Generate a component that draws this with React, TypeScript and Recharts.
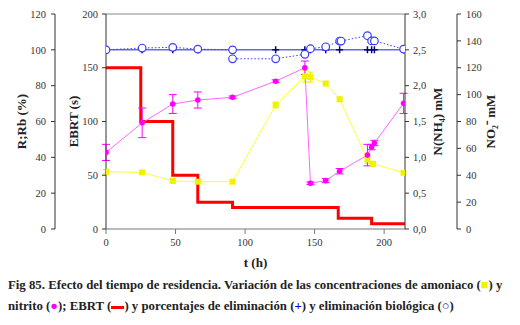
import React from "react";
import {
  ComposedChart,
  Line,
  XAxis,
  YAxis,
  ErrorBar,
  ReferenceLine,
} from "recharts";

// EBRT (s), step changes
const ebrtTime = [0, 25, 48, 66, 91, 167, 191, 215];
const ebrtSeconds = [150, 100, 50, 25, 20, 10, 5, 5];

// amoniaco, N(NH4) mM
const ammoniaTime = [0, 26, 48, 66, 91, 122, 143, 147, 158, 168, 188, 192, 214];
const ammonia = [0.8, 0.79, 0.67, 0.66, 0.66, 1.73, 2.13, 2.12, 2.03, 1.81, 0.97, 0.91, 0.785];
const ammoniaErr = [0.03, 0.02, 0.03, 0.02, 0.02, 0.04, 0.08, 0.07, 0.03, 0.03, 0.05, 0.03, 0.02];

// nitrito, NO2- mM
const nitriteTime = [0, 26, 48, 66, 91, 122, 143, 147, 158, 168, 188, 191, 193, 214];
const nitrite = [57, 79, 93, 96, 98, 110, 120, 34, 36, 43, 55, 61, 64, 93.5];
const nitriteErr = [6, 11, 7, 6, 1, 1, 5, 1, 1.5, 2, 8, 2, 2, 7.5];

// eliminacion (+), %
const removalTime = [0, 26, 48, 66, 91, 122, 143, 147, 158, 168, 188, 191, 193, 214];
const removal = [100, 100, 100, 100, 100, 100, 100, 100, 100, 100, 100, 100, 100, 100];

// eliminacion biologica (o), %
const bioTime = [0, 26, 48, 66, 91, 91, 122, 143, 147, 158, 168, 169, 188, 191, 193, 214];
const bio = [100, 101, 101.4, 100.4, 100, 95, 95, 97.5, 100.6, 101.7, 104.9, 104.9, 107.9, 105, 105, 100.4];

const timeTicks = [0, 50, 100, 150, 200];
const pctTicks = [0, 20, 40, 60, 80, 100, 120];
const ebrtTicks = [0, 50, 100, 150, 200];
const nh4Ticks = [0, 0.5, 1, 1.5, 2, 2.5, 3];
const no2Ticks = [0, 20, 40, 60, 80, 100, 120, 140, 160];

const rows = (t: number[], v: number[], e?: number[]) =>
  t.map((x, i) => ({ t: x, v: v[i], e: e ? e[i] : 0 }));

const font = '"Liberation Serif", "Times New Roman", Times, serif';
const tick = { fontSize: 10.5, fill: "#333", fontFamily: font };
const titleStyle = { fontSize: 13, fontWeight: 700, fill: "#222", fontFamily: font };

const SquareDot = (p: any) => (
  <rect key={`sq-${p.index}`} x={p.cx - 3} y={p.cy - 3} width={6} height={6} fill="#f2f200" />
);
const RoundDot = (p: any) => (
  <circle key={`rd-${p.index}`} cx={p.cx} cy={p.cy} r={2.8} fill="#ff00ff" />
);
const PlusDot = (p: any) => (
  <path
    key={`pl-${p.index}`}
    d={`M${p.cx - 3.5},${p.cy}H${p.cx + 3.5}M${p.cx},${p.cy - 3.5}V${p.cy + 3.5}`}
    stroke="#000080"
    strokeWidth={1.5}
  />
);
const OpenDot = (p: any) => (
  <circle key={`op-${p.index}`} cx={p.cx} cy={p.cy} r={3.8} fill="#fff" stroke="#3a3aff" strokeWidth={1.2} />
);

const comma = (v: number) => v.toFixed(1).replace(".", ",");

export default function App() {
  return (
    <div style={{ width: 512, fontFamily: font }}>
      <ComposedChart width={512} height={266} margin={{ top: 6, right: 0, bottom: 0, left: 0 }}>
        <XAxis
          dataKey="t"
          type="number"
          domain={[0, 215]}
          ticks={timeTicks}
          allowDataOverflow
          tick={tick}
          tickSize={5}
          tickMargin={5}
          height={45}
          stroke="#777"
          label={{ value: "t (h)", position: "insideBottom", offset: 7, style: titleStyle }}
        />
        <YAxis
          yAxisId="ebrt"
          orientation="left"
          width={51}
          domain={[0, 200]}
          ticks={ebrtTicks}
          tick={tick}
          tickSize={4}
          tickMargin={4}
          stroke="#333"
          label={{ value: "EBRT (s)", angle: -90, position: "center", dx: -7, style: titleStyle }}
        />
        <YAxis
          yAxisId="r"
          orientation="left"
          width={47}
          domain={[0, 120]}
          ticks={pctTicks}
          tick={tick}
          tickSize={4}
          tickMargin={5}
          stroke="#333"
          label={{ value: "R;Rb (%)", angle: -90, position: "center", dx: -10, style: titleStyle }}
        />
        <YAxis
          yAxisId="nh4"
          orientation="right"
          width={52}
          domain={[0, 3]}
          ticks={nh4Ticks}
          tickFormatter={comma}
          tick={tick}
          tickSize={4}
          tickMargin={4}
          stroke="#333"
          label={{ value: "N(NH₄) mM", angle: -90, position: "center", dx: 6, style: titleStyle }}
        />
        <YAxis
          yAxisId="no2"
          orientation="right"
          width={63}
          domain={[0, 160]}
          ticks={no2Ticks}
          tick={tick}
          tickSize={4}
          tickMargin={5}
          stroke="#333"
          label={{ value: "NO₂⁻ mM", angle: -90, position: "center", dx: 2, style: titleStyle }}
        />
        <ReferenceLine yAxisId="ebrt" y={200} stroke="#888" />

        <Line
          yAxisId="ebrt"
          data={rows(ebrtTime, ebrtSeconds)}
          dataKey="v"
          type="stepAfter"
          stroke="#ff0000"
          strokeWidth={3}
          dot={false}
          isAnimationActive={false}
        />
        <Line
          yAxisId="nh4"
          data={rows(ammoniaTime, ammonia, ammoniaErr)}
          dataKey="v"
          stroke="#ffff33"
          strokeWidth={1}
          dot={SquareDot}
          isAnimationActive={false}
        >
          <ErrorBar dataKey="e" width={3} stroke="#e8e800" strokeWidth={1} />
        </Line>
        <Line
          yAxisId="no2"
          data={rows(nitriteTime, nitrite, nitriteErr)}
          dataKey="v"
          stroke="#ff66ff"
          strokeWidth={1}
          dot={RoundDot}
          isAnimationActive={false}
        >
          <ErrorBar dataKey="e" width={4} stroke="#ff00ff" strokeWidth={1} />
        </Line>
        <Line
          yAxisId="r"
          data={rows(removalTime, removal)}
          dataKey="v"
          stroke="#6a6ad8"
          strokeWidth={1.5}
          dot={PlusDot}
          isAnimationActive={false}
        />
        <Line
          yAxisId="r"
          data={rows(bioTime, bio)}
          dataKey="v"
          stroke="#3a3aff"
          strokeWidth={1}
          strokeDasharray="1.5 2"
          dot={OpenDot}
          isAnimationActive={false}
        />
      </ComposedChart>
      <div
        style={{
          marginTop: 1,
          width: 512,
          fontSize: 12.8,
          fontWeight: 700,
          lineHeight: "21px",
          color: "#222",
          whiteSpace: "nowrap",
        }}
      >
        <div>
          Fig 85. Efecto del tiempo de residencia. Variación de las concentraciones de amoniaco (
          <span style={{ color: "#f2f200" }}>■</span>) y
        </div>
        <div>
          nitrito (<span style={{ color: "#ff00ff" }}>●</span>); EBRT (
          <span
            style={{
              display: "inline-block",
              width: 13,
              height: 3,
              background: "#ff0000",
              verticalAlign: "middle",
            }}
          />
          ) y porcentajes de eliminación (<span style={{ color: "#0000cc" }}>+</span>) y eliminación
          biológica (<span style={{ color: "#000080", fontWeight: 400 }}>○</span>)
        </div>
      </div>
    </div>
  );
}
